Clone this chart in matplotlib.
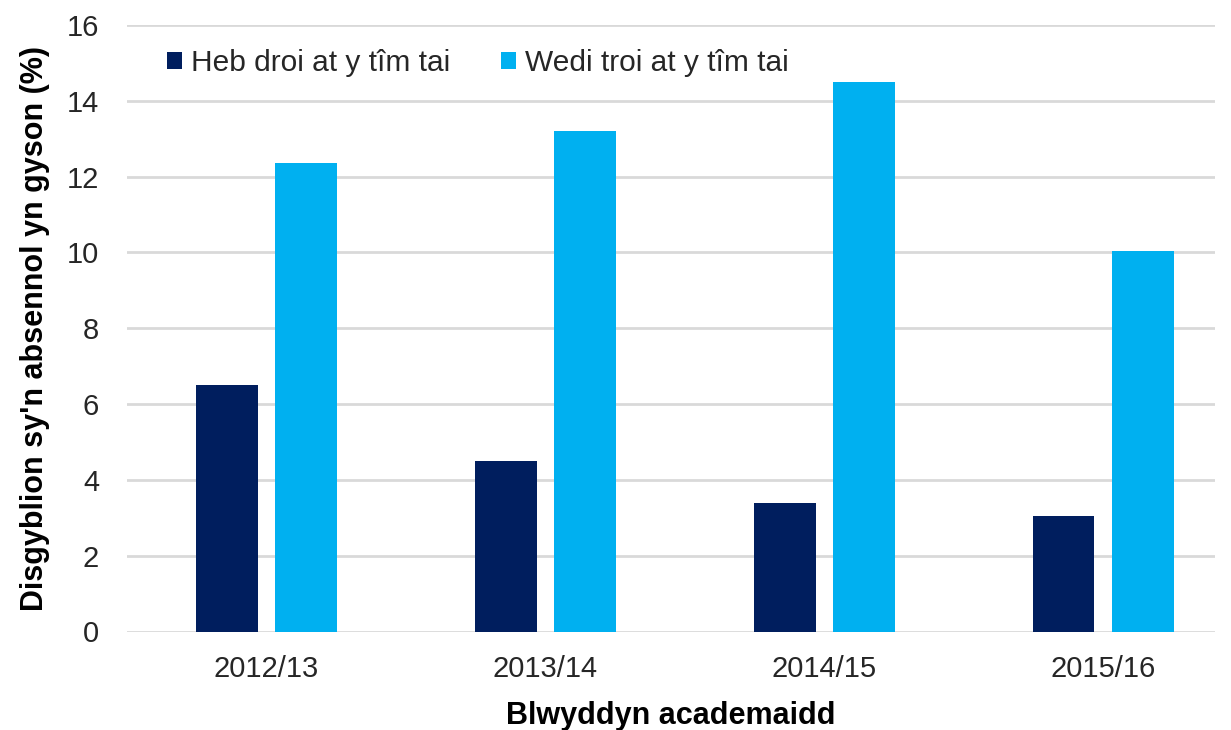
import numpy as np
import matplotlib.pyplot as plt

plt.rcParams['font.family'] = ['Liberation Sans', 'DejaVu Sans']

years = ['2012/13', '2013/14', '2014/15', '2015/16']
heb_droi = [6.5, 4.5, 3.4, 3.05]
wedi_troi = [12.35, 13.2, 14.5, 10.05]
labels = ['Heb droi at y tîm tai', 'Wedi troi at y tîm tai']
colors = ['#001e5e', '#00b0f0']

fig = plt.figure(figsize=(12.31, 7.30), dpi=100)
ax = fig.add_axes([127/1231, 1 - 631.5/730, (1215-127)/1231, (631.5-25)/730])

x = np.arange(len(years))
w = 0.222
off = 0.143
ax.bar(x - off, heb_droi, w, color=colors[0], label=labels[0], zorder=3)
ax.bar(x + off, wedi_troi, w, color=colors[1], label=labels[1], zorder=3)

ax.set_xlim(-0.5, 3.4)
ax.set_ylim(0, 16)
ax.set_yticks(range(0, 17, 2))
ax.set_xticks(x)
ax.set_xticklabels(years)
ax.tick_params(axis='both', length=0, labelsize=21, colors='#262626')
ax.tick_params(axis='x', pad=17)
ax.tick_params(axis='y', pad=20)
ax.grid(axis='y', color='#d9d9d9', linewidth=2, zorder=0)
for s in ax.spines.values():
    s.set_visible(False)

ax.set_ylabel("Disgyblion sy'n absennol yn gyson (%)", fontsize=22,
              fontweight='bold', labelpad=12)
ax.set_xlabel('Blwyddyn academaidd', fontsize=22, fontweight='bold', labelpad=13)

ax.legend(loc='upper left', bbox_to_anchor=(0.012, 1.005), ncol=2, frameon=False,
          fontsize=21.5, handlelength=0.5, handleheight=0.5, handletextpad=0.3,
          columnspacing=1.7, labelcolor='#262626')

fig.savefig('out.png', dpi=100)
